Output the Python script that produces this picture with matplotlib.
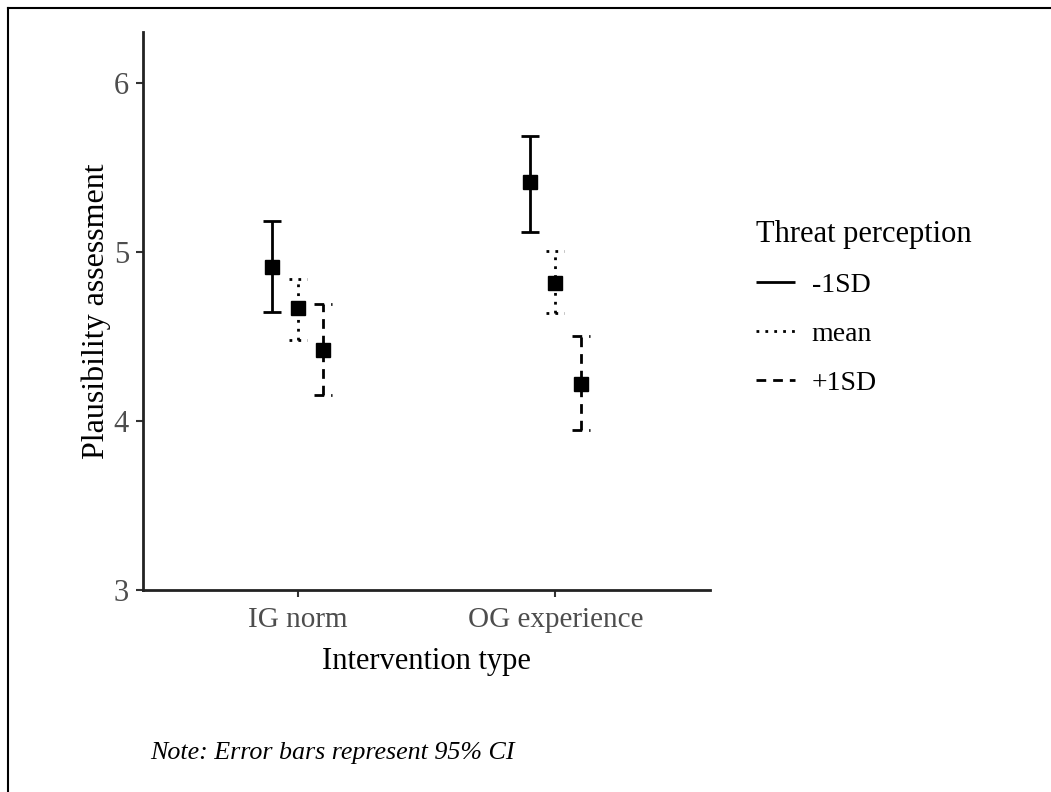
import matplotlib
matplotlib.use("Agg")
import matplotlib.pyplot as plt
from matplotlib.lines import Line2D
import numpy as np

categories = ["IG norm", "OG experience"]
groups = ["-1SD", "mean", "+1SD"]
means = {"-1SD": [4.91, 5.41], "mean": [4.665, 4.817], "+1SD": [4.418, 4.221]}
lower = {"-1SD": [4.642, 5.12], "mean": [4.48, 4.638], "+1SD": [4.152, 3.949]}
upper = {"-1SD": [5.18, 5.687], "mean": [4.837, 5.002], "+1SD": [4.69, 4.50]}
yticks = [3, 4, 5, 6]

W, H = 1051, 792
fig = plt.figure(figsize=(W / 100, H / 100), dpi=100)
plt.rcParams["font.family"] = ["Liberation Serif", "DejaVu Serif"]

ax = fig.add_axes([143 / W, 1 - 590 / H, (710 - 143) / W, (590 - 32) / H])

styles = {"-1SD": (0, ()), "mean": (0, (1.0, 2.2)), "+1SD": (0, (3.5, 2.5))}
offsets = {"-1SD": -0.1, "mean": 0.0, "+1SD": 0.1}
cap = 0.035
x = np.arange(1, len(categories) + 1)
for g in groups:
    xs = x + offsets[g]
    for i, xi in enumerate(xs):
        lo, hi, m = lower[g][i], upper[g][i], means[g][i]
        ax.plot([xi, xi], [lo, hi], color="black", lw=2.0, linestyle=styles[g],
                solid_capstyle="butt", dash_capstyle="butt")
        ax.plot([xi - cap, xi + cap], [hi, hi], color="black", lw=2.0, linestyle=styles[g])
        ax.plot([xi - cap, xi + cap], [lo, lo], color="black", lw=2.0, linestyle=styles[g])
    ax.plot(xs, means[g], marker="s", ms=10, color="black", linestyle="none", zorder=5)

ax.set_xlim(0.4, 2.6)
ax.set_ylim(3, 6.3)
ax.set_xticks(x)
ax.set_xticklabels(categories, fontsize=21, color="#4d4d4d")
ax.set_yticks(yticks)
ax.set_yticklabels([str(t) for t in yticks], fontsize=22, color="#4d4d4d")
ax.tick_params(axis="both", length=5, width=1.5, color="#333333")
ax.tick_params(axis="x", pad=7)
ax.tick_params(axis="y", pad=5)
ax.set_xlabel("Intervention type", fontsize=22, labelpad=10)
ax.set_ylabel("Plausibility assessment", fontsize=23, labelpad=2)
for s in ["top", "right"]:
    ax.spines[s].set_visible(False)
for s in ["left", "bottom"]:
    ax.spines[s].set_linewidth(2.0)
    ax.spines[s].set_color("#222222")

handles = [Line2D([0], [0], color="black", lw=2.0, linestyle=styles[g]) for g in groups]
leg = fig.legend(handles, groups, title="Threat perception", loc="upper left",
                 bbox_to_anchor=(731 / W, 1 - 195 / H), frameon=False,
                 fontsize=20, title_fontsize=22, handlelength=1.4,
                 handletextpad=0.6, labelspacing=0.85, borderpad=0.4)
leg._legend_box.align = "left"

fig.text(150 / W, 1 - 753 / H, "Note: Error bars represent 95% CI", fontsize=18.7,
         style="italic", va="center", ha="left")

fig.add_artist(Line2D([7.5 / W, 7.5 / W], [0, 1 - 7.5 / H], transform=fig.transFigure,
                      color="black", lw=1.5))
fig.add_artist(Line2D([7.5 / W, 1], [1 - 7.5 / H, 1 - 7.5 / H], transform=fig.transFigure,
                      color="black", lw=1.5))

fig.savefig("out.png", dpi=100)
